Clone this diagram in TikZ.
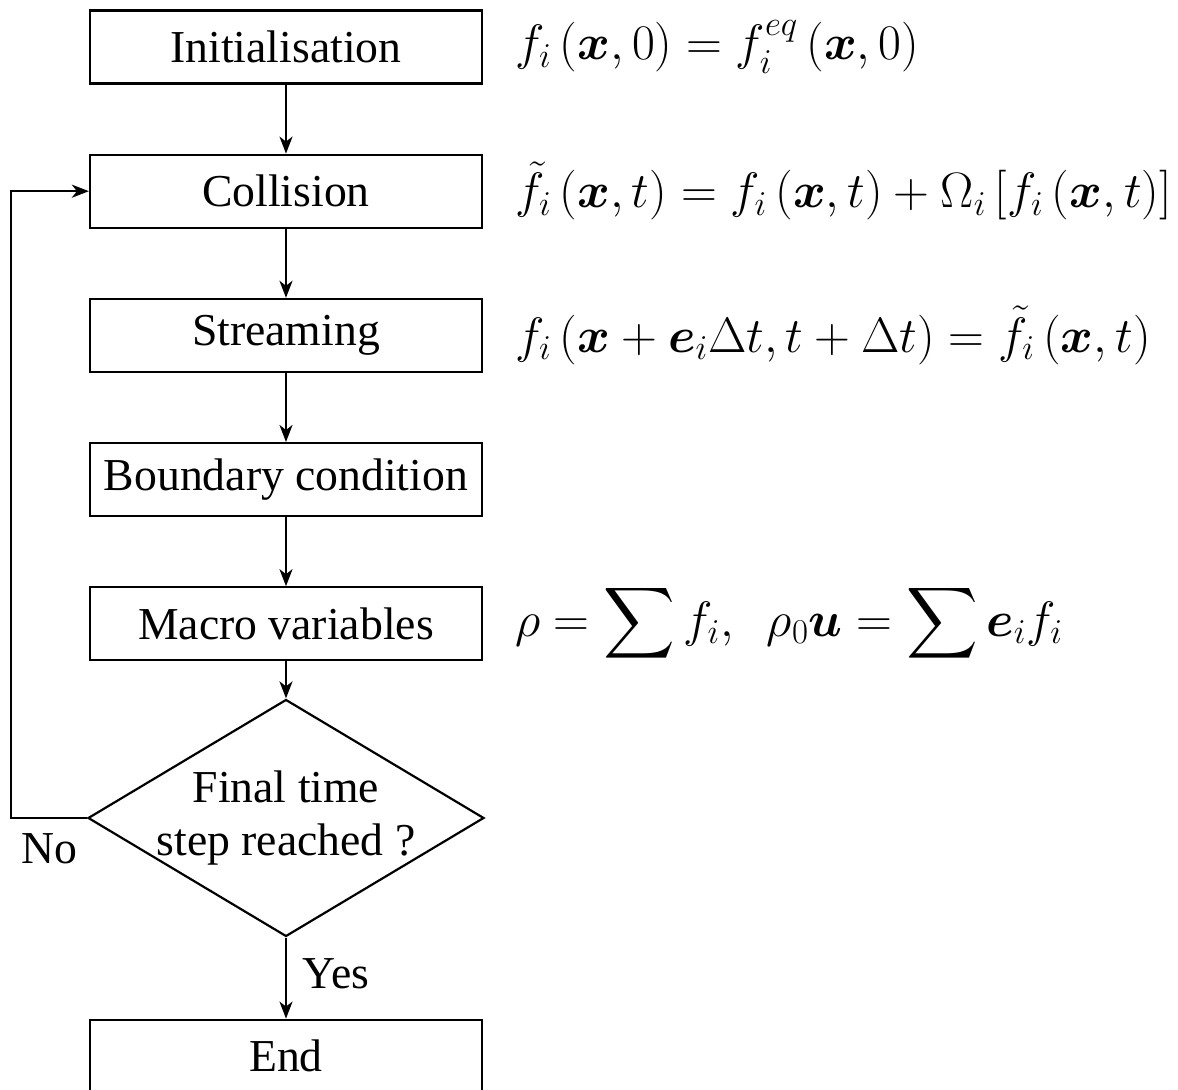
\RequirePackage{fix-cm}
\documentclass[tikz,border=0pt]{standalone}
\usepackage{amsmath,amssymb}
\usepackage[no-math]{fontspec}
\setmainfont{Liberation Serif}
\usetikzlibrary{positioning,shapes.geometric,arrows.meta}

\begin{document}
\begin{tikzpicture}[node distance=1.38cm, line width=1.25pt,
                    >={Stealth[length=0.34cm,width=0.26cm,inset=0.1cm]},
                    every node/.style={font=\fontsize{26}{30}\selectfont},
                    block/.style={rectangle,draw,minimum width=7.84cm,minimum height=1.46cm},
                    decision/.style={diamond,draw,minimum width=7.92cm,minimum height=4.74cm,inner sep=0pt},
                    eqn/.style={right=0.5cm of #1,font=\fontsize{28.3}{33}\selectfont}]

  \useasboundingbox (-5.72,0.94) rectangle (17.84,-20.86);

  \node[block] (init) {Initialisation};
  \node[block] (coll) [below=of init] {Collision};
  \node[block] (stream) [below=of coll] {Streaming};
  \node[block] (bound) [below=of stream] {Boundary condition};
  \node[block] (macro) [below=of bound] {Macro variables};
  \node[decision] (final) [below=0.74cm of macro,
        label={[align=center]center:Final time\\step reached ?}] {};
  \node[block] (end) [below=1.62cm of final] {End};

  % equations beside the boxes
  \node[eqn=init] (eqinit) {$f_i\left(\boldsymbol{x},0\right)=f_i^{eq}\left(\boldsymbol{x},0\right)$};
  \node[eqn=coll] (eqcoll) {$\tilde{f}_i\left(\boldsymbol{x},t\right)=f_i\left(\boldsymbol{x},t\right)+\Omega_i\left[f_i\left(\boldsymbol{x},t\right)\right]$};
  \node[eqn=stream] (eqstream) {$f_i\left(\boldsymbol{x}+\boldsymbol{e}_i\Delta t,t+\Delta t\right)=\tilde{f}_i\left(\boldsymbol{x},t\right)$};
  \node[eqn=macro] (eqmacro) {$\displaystyle\rho=\sum f_i,\ \ \rho_0\boldsymbol{u}=\sum\boldsymbol{e}_i f_i$};

  \path[->]
    (init) edge (coll)
    (coll) edge (stream)
    (stream) edge (bound)
    (bound) edge (macro)
    (macro) edge (final)
    (final) edge node[right,pos=0.45,xshift=0.2cm] {Yes} (end);

  % loop back
  \coordinate (back) at ([xshift=-1.52cm]final.west);
  \draw[->] (final.west) -- (back) |- (coll.west);
  \node (no) at ([xshift=0.78cm,yshift=-0.62cm]back) {No};
\end{tikzpicture}
\end{document}
